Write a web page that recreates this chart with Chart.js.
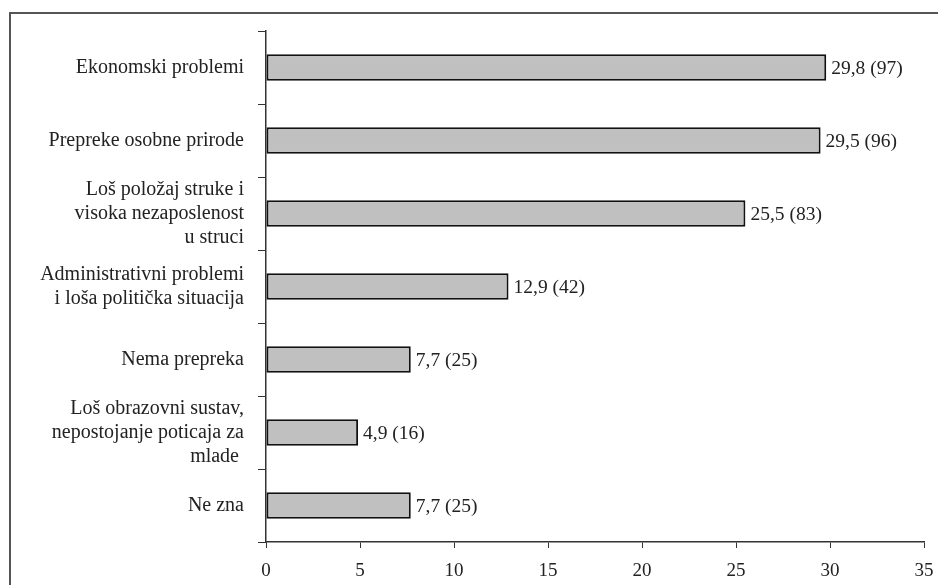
<!DOCTYPE html>
<html>
<head>
<meta charset="utf-8">
<script src="https://cdn.jsdelivr.net/npm/chart.js@4/dist/chart.umd.min.js"></script>
<style>
  html, body { margin: 0; padding: 0; background: #fff; }
  #wrap { width: 938px; height: 585px; position: relative; }
</style>
</head>
<body>
<div id="wrap"><canvas id="myBarChart"></canvas></div>
<script>
// categories (multi-line labels as in the original)
const categories = [
	['Ekonomski problemi'],
	['Prepreke osobne prirode'],
	['Loš položaj struke i', 'visoka nezaposlenost', 'u struci'],
	['Administrativni problemi', 'i loša politička situacija'],
	['Nema prepreka'],
	['Loš obrazovni sustav,', 'nepostojanje poticaja za', 'mlade '],
	['Ne zna']
];
const percents = [29.8, 29.5, 25.5, 12.9, 7.7, 4.9, 7.7];
const counts = [97, 96, 83, 42, 25, 16, 25];
const xTicks = [0, 5, 10, 15, 20, 25, 30, 35];

const serif = "'Liberation Serif', 'Times New Roman', serif";

// frame: only top and left lines are visible in the original
const framePlugin = {
	id: 'frame',
	beforeDraw: (chart) => {
		const ctx = chart.ctx;
		ctx.save();
		ctx.strokeStyle = '#555';
		ctx.lineWidth = 2;
		ctx.beginPath();
		ctx.moveTo(10, 585);
		ctx.lineTo(10, 13);
		ctx.lineTo(938, 13);
		ctx.stroke();
		ctx.restore();
	}
};

// value labels "29,8 (97)" at the end of each bar
const valueLabels = {
	id: 'valueLabels',
	afterDatasetsDraw: (chart) => {
		const ctx = chart.ctx;
		const meta = chart.getDatasetMeta(0);
		ctx.save();
		ctx.font = '19.5px ' + serif;
		ctx.fillStyle = '#222';
		ctx.textAlign = 'left';
		ctx.textBaseline = 'middle';
		meta.data.forEach((bar, i) => {
			const txt = percents[i].toFixed(1).replace('.', ',') + ' (' + counts[i] + ')';
			ctx.fillText(txt, bar.x + 5, bar.y + 1);
		});
		ctx.restore();
	}
};

Chart.defaults.font.family = serif;
Chart.defaults.font.size = 19;
Chart.defaults.color = '#222';

const ctx = document.getElementById('myBarChart').getContext('2d');
new Chart(ctx, {
	type: 'bar',
	data: {
		labels: categories,
		datasets: [{
			data: percents,
			backgroundColor: '#C0C0C0',
			borderColor: '#111',
			borderWidth: 2,
			borderSkipped: false,
			categoryPercentage: 1,
			barPercentage: 0.36
		}]
	},
	options: {
		indexAxis: 'y',
		responsive: true,
		maintainAspectRatio: false,
		animation: false,
		devicePixelRatio: 1,
		layout: { padding: { top: 31, right: 14, left: 0, bottom: 0 } },
		plugins: {
			legend: { display: false },
			tooltip: { enabled: false }
		},
		scales: {
			x: {
				min: 0,
				max: 35,
				afterBuildTicks: (scale) => { scale.ticks = xTicks.map(v => ({ value: v })); },
				afterFit: (scale) => {
					scale.height = 43;
					scale.paddingLeft = 0;
					scale.paddingRight = 0;
				},
				ticks: { padding: 12, font: { size: 19 }, color: '#222', autoSkip: false, maxRotation: 0 },
				grid: { drawOnChartArea: false, tickLength: 6, color: '#333', lineWidth: 1 },
				border: { color: '#333', width: 1.5 }
			},
			y: {
				afterFit: (scale) => { scale.width = 266; },
				ticks: { padding: 14, font: { size: 20, lineHeight: 1.2 }, color: '#222', autoSkip: false },
				grid: { drawOnChartArea: false, offset: true, tickLength: 8, color: '#333', lineWidth: 1 },
				border: { color: '#333', width: 1.5 }
			}
		}
	},
	plugins: [framePlugin, valueLabels]
});
</script>
</body>
</html>
